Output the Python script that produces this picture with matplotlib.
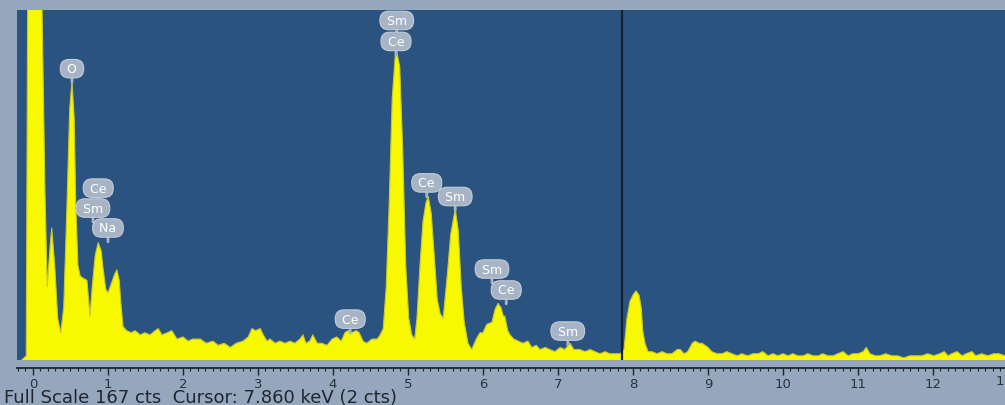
import numpy as np
import matplotlib
matplotlib.use("Agg")
import matplotlib.pyplot as plt
from matplotlib.ticker import MultipleLocator

# spectrum: energy (keV) and counts
energy = [-0.15, -0.09, -0.07, 0.00, 0.05, 0.10, 0.12, 0.16, 0.19, 0.23,
          0.25, 0.29, 0.33, 0.37, 0.41, 0.45, 0.49, 0.52, 0.55, 0.57,
          0.60, 0.63, 0.67, 0.72, 0.75, 0.76, 0.79, 0.83, 0.87, 0.91,
          0.93, 0.97, 1.00, 1.05, 1.09, 1.12, 1.15, 1.17, 1.20, 1.25,
          1.31, 1.36, 1.43, 1.49, 1.56, 1.63, 1.67, 1.72, 1.79, 1.85,
          1.92, 2.00, 2.07, 2.13, 2.23, 2.31, 2.40, 2.47, 2.55, 2.63,
          2.71, 2.80, 2.87, 2.92, 2.97, 3.03, 3.07, 3.12, 3.16, 3.23,
          3.29, 3.36, 3.43, 3.49, 3.56, 3.60, 3.64, 3.69, 3.73, 3.79,
          3.85, 3.92, 3.99, 4.05, 4.11, 4.16, 4.20, 4.25, 4.31, 4.35,
          4.40, 4.45, 4.52, 4.59, 4.63, 4.67, 4.71, 4.75, 4.79, 4.83,
          4.85, 4.89, 4.93, 4.97, 5.01, 5.05, 5.09, 5.12, 5.16, 5.20,
          5.24, 5.27, 5.31, 5.35, 5.39, 5.43, 5.47, 5.51, 5.53, 5.57,
          5.63, 5.67, 5.71, 5.75, 5.80, 5.85, 5.91, 5.96, 6.00, 6.05,
          6.12, 6.16, 6.20, 6.24, 6.27, 6.29, 6.33, 6.36, 6.41, 6.47,
          6.53, 6.60, 6.65, 6.71, 6.76, 6.83, 6.89, 6.96, 7.03, 7.09,
          7.16, 7.21, 7.29, 7.36, 7.43, 7.49, 7.56, 7.63, 7.69, 7.76,
          7.83, 7.88, 7.92, 7.96, 8.00, 8.04, 8.08, 8.11, 8.13, 8.16,
          8.20, 8.25, 8.32, 8.39, 8.45, 8.52, 8.59, 8.63, 8.68, 8.73,
          8.79, 8.83, 8.88, 8.92, 8.96, 9.00, 9.05, 9.12, 9.19, 9.25,
          9.32, 9.39, 9.45, 9.53, 9.60, 9.67, 9.73, 9.80, 9.87, 9.93,
          10.00, 10.07, 10.13, 10.20, 10.27, 10.33, 10.40, 10.47, 10.53, 10.60,
          10.67, 10.73, 10.80, 10.87, 10.93, 11.00, 11.07, 11.11, 11.16, 11.23,
          11.29, 11.37, 11.45, 11.53, 11.61, 11.69, 11.77, 11.85, 11.93, 12.01,
          12.09, 12.15, 12.20, 12.25, 12.32, 12.39, 12.44, 12.52, 12.57, 12.65,
          12.73, 12.81, 12.88, 12.96]
counts = [0, 2, 180, 450, 480, 300, 170, 80, 35, 55,
          63, 45, 20, 13, 25, 70, 120, 133, 115, 75,
          45, 40, 39, 38, 25, 21, 35, 50, 56, 52,
          45, 34, 32, 37, 41, 43, 38, 28, 16, 14,
          13, 14, 12, 13, 12, 14, 15, 12, 13, 14,
          10, 11, 9, 10, 10, 8, 9, 7, 8, 6,
          8, 9, 11, 15, 14, 15, 12, 9, 10, 8,
          9, 8, 9, 8, 10, 12, 8, 9, 12, 8,
          8, 7, 10, 11, 9, 13, 14, 13, 14, 13,
          9, 8, 10, 10, 12, 15, 35, 75, 125, 145,
          147, 140, 100, 45, 20, 12, 10, 20, 45, 66,
          75, 78, 70, 50, 29, 22, 20, 35, 43, 60,
          72, 62, 35, 18, 8, 5, 10, 13, 13, 17,
          18, 24, 27, 25, 21, 21, 14, 12, 10, 9,
          8, 9, 6, 7, 5, 6, 5, 4, 6, 5,
          8, 5, 5, 4, 5, 4, 3, 4, 3, 3,
          3, 5, 20, 28, 31, 33, 31, 25, 14, 8,
          4, 4, 3, 4, 3, 3, 5, 5, 3, 4,
          8, 9, 8, 8, 7, 6, 4, 3, 3, 4,
          3, 2, 3, 2, 3, 3, 4, 2, 3, 2,
          3, 2, 3, 2, 2, 3, 2, 2, 3, 2,
          2, 3, 4, 2, 3, 3, 4, 6, 3, 2,
          2, 3, 2, 2, 1, 2, 2, 2, 3, 2,
          3, 4, 2, 3, 4, 2, 3, 4, 2, 3,
          2, 3, 3, 2]

# element markers: name, line energy, badge height (cts)
marker_names = ['O', 'Ce', 'Sm', 'Na', 'Sm', 'Ce', 'Ce', 'Ce', 'Sm', 'Sm', 'Ce', 'Sm']
marker_energy = [0.52, 0.87, 0.80, 1.00, 4.85, 4.84, 4.23, 5.25, 5.63, 6.12, 6.31, 7.13]
marker_level = [139, 82, 72.5, 63, 162, 152, 19.5, 84.5, 78, 43.4, 33.4, 13.8]

full_scale = 167
cursor_kev = 7.860
cursor_cts = 2

fig = plt.figure(figsize=(10.05, 4.06), dpi=100, facecolor='#95a7bc')
ax = fig.add_axes([17 / 1005, 45 / 406, 988 / 1005, 350 / 406])
ax.set_facecolor('#2a5380')

ax.fill_between(energy, counts, 0, color='#f8f800', lw=0, zorder=2)
ax.plot(energy, counts, color='#c8c830', lw=0.8, zorder=3)
ax.axvline(cursor_kev, color='#15202c', lw=1.6, zorder=4)

for name, e, lev in zip(marker_names, marker_energy, marker_level):
    ax.annotate('', xy=(e, lev), xytext=(0, -10), textcoords='offset points',
                xycoords='data', zorder=5,
                arrowprops=dict(arrowstyle='-', color='#a7b4c5', lw=2,
                                shrinkA=0, shrinkB=0))
    ax.annotate(' ' + name + ' ', xy=(e, lev), xytext=(0, 0),
                textcoords='offset points',
                ha='center', va='center', color='white', fontsize=9,
                family='DejaVu Sans', zorder=6,
                bbox=dict(boxstyle='round,pad=0.22,rounding_size=0.7',
                          fc='#a7b4c5', ec='#c3ccd8', lw=0.8))

ax.set_xlim(-0.213, 12.96)
ax.set_ylim(0, full_scale)

for side in ['top', 'left', 'right']:
    ax.spines[side].set_visible(False)
ax.spines['bottom'].set_position(('outward', 5.5))
ax.spines['bottom'].set_color('#1c2633')
ax.spines['bottom'].set_linewidth(1.3)
ax.set_yticks([])
ax.xaxis.set_major_locator(MultipleLocator(1))
ax.xaxis.set_minor_locator(MultipleLocator(0.1))
ax.tick_params(axis='x', which='major', length=5, width=1, color='#1c2633',
               labelsize=9.5, labelcolor='#2a323c', pad=1.5)
ax.tick_params(axis='x', which='minor', length=2.5, width=0.8, color='#1c2633')
for lab in ax.get_xticklabels():
    lab.set_family('DejaVu Sans')
# first digit of the "13" label at the right edge
fig.text(1004 / 1005, 1 - 382 / 406, '1', ha='right', va='center',
         fontsize=9.5, color='#2a323c', family='DejaVu Sans')

fig.text(4 / 1005, 1 - 398 / 406,
         f'Full Scale {full_scale} cts  Cursor: {cursor_kev:.3f} keV ({cursor_cts} cts)',
         ha='left', va='center', fontsize=13, color='#1f2630', family='DejaVu Sans')

fig.savefig('out.png', dpi=100, facecolor=fig.get_facecolor())
